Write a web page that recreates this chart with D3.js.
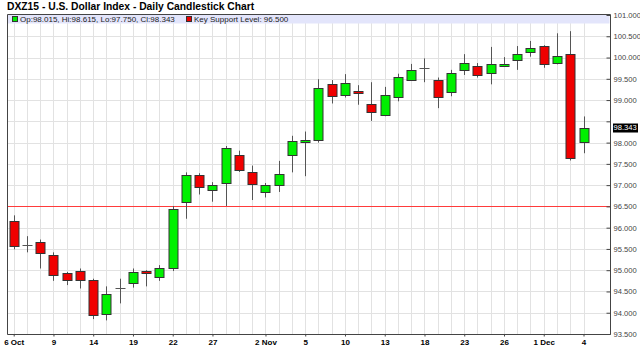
<!DOCTYPE html>
<html>
<head>
<meta charset="utf-8">
<script src="https://cdn.jsdelivr.net/npm/d3@7"></script>
<style>
  body { margin: 0; background: #fff; }
  svg { display: block; font-family: "Liberation Sans", Arial, sans-serif; }
</style>
</head>
<body>
<div id="chart"></div>
<script>
// daily sessions, 6 Oct - 4 Dec 2015
var dates = ["2015-10-06","2015-10-07","2015-10-08","2015-10-09","2015-10-12","2015-10-13","2015-10-14","2015-10-15","2015-10-16",
    "2015-10-19","2015-10-20","2015-10-21","2015-10-22","2015-10-23","2015-10-26","2015-10-27","2015-10-28","2015-10-29","2015-10-30",
    "2015-11-02","2015-11-03","2015-11-04","2015-11-05","2015-11-06","2015-11-09","2015-11-10","2015-11-11","2015-11-12","2015-11-13",
    "2015-11-16","2015-11-17","2015-11-18","2015-11-19","2015-11-20","2015-11-23","2015-11-24","2015-11-25","2015-11-26","2015-11-27",
    "2015-11-30","2015-12-01","2015-12-02","2015-12-03","2015-12-04"];
var open  = [96.16,95.59,95.67,95.35,94.93,94.97,94.78,93.98,94.58,94.71,94.98,94.85,95.04,96.60,97.24,96.88,97.05,97.71,97.30,
    96.83,97.00,97.70,98.02,98.07,99.38,99.11,99.21,98.90,98.66,99.08,99.47,99.76,99.48,99.20,99.70,99.79,99.63,99.80,99.94,
    100.13,100.27,99.88,100.09,98.015];
var high  = [96.29,95.80,95.72,95.42,94.96,95.04,94.80,94.62,94.80,95.04,95.00,95.12,96.51,97.30,97.28,97.07,97.92,97.81,97.46,
    97.05,97.57,98.16,98.26,99.49,99.47,99.61,99.35,99.42,99.31,99.62,99.85,99.98,99.53,99.71,100.08,99.87,100.25,100.01,100.27,
    100.39,100.29,100.57,100.62,98.615];
var low   = [95.49,95.42,95.04,94.75,94.65,94.57,93.85,93.82,94.22,94.59,94.62,94.75,94.98,96.21,96.78,96.61,96.51,97.31,96.65,
    96.71,96.84,97.30,97.21,98.00,98.92,99.06,98.89,98.51,98.62,98.97,99.45,99.42,98.81,99.09,99.59,99.53,99.37,99.78,99.71,
    100.02,99.76,99.84,97.58,97.750];
var close = [95.57,95.59,95.41,94.88,94.76,94.77,93.94,94.43,94.58,94.95,94.93,95.06,96.45,97.25,96.95,97.01,97.87,97.36,97.02,
    97.00,97.26,98.04,98.06,99.28,99.09,99.39,99.16,98.73,99.11,99.55,99.71,99.76,99.08,99.63,99.86,99.60,99.85,99.85,100.08,
    100.23,99.85,100.03,97.64,98.343];

var tickDates  = ["2015-10-06","2015-10-09","2015-10-14","2015-10-19","2015-10-22","2015-10-27","2015-11-02","2015-11-05",
    "2015-11-10","2015-11-13","2015-11-18","2015-11-23","2015-11-26","2015-12-01","2015-12-04"];
var tickLabels = ["6 Oct","9","14","19","22","27","2 Nov","5","10","13","18","23","26","1 Dec","4"];
var yTicks = d3.range(93.5, 101.01, 0.5);

var supportLevel = 96.5;
var lastClose = 98.343;

var width = 640, height = 363;
var pLeft = 7, pRight = 610, pTop = 14, pBottom = 334;

var svg = d3.select("#chart").append("svg")
    .attr("width", width)
    .attr("height", height);

var x = d3.scalePoint().domain(dates).range([13.7, 583.5]);
var y = d3.scaleLinear().domain([93.5, 101]).range([pBottom, 15]);

var candles = dates.map(function(d, i) {
    return { date: d, o: open[i], h: high[i], l: low[i], c: close[i] };
});

// title
svg.append("text")
    .attr("x", 7).attr("y", 10)
    .style("font-size", "10.3px").style("font-weight", "bold")
    .attr("fill", "#000")
    .text("DXZ15 - U.S. Dollar Index - Daily Candlestick Chart");

// grid
var grid = svg.append("g").attr("stroke", "#e2e2e2").attr("stroke-width", 1);
grid.selectAll(".vg").data(dates).enter().append("line")
    .attr("x1", function(d) { return Math.round(x(d)) + 0.5; })
    .attr("x2", function(d) { return Math.round(x(d)) + 0.5; })
    .attr("y1", pTop).attr("y2", pBottom);
grid.selectAll(".hg").data(yTicks).enter().append("line")
    .attr("x1", pLeft).attr("x2", pRight)
    .attr("y1", function(d) { return Math.round(y(d)) + 0.5; })
    .attr("y2", function(d) { return Math.round(y(d)) + 0.5; });

// legend band
svg.append("rect")
    .attr("x", pLeft + 0.5).attr("y", pTop + 0.5)
    .attr("width", pRight - pLeft - 1).attr("height", 9)
    .attr("fill", "#e3e5fb");

var legend = svg.append("g").style("font-size", "8px").attr("fill", "#222");
legend.append("rect").attr("x", 12.5).attr("y", 16.5).attr("width", 5).attr("height", 5)
    .attr("fill", "#00ee00").attr("stroke", "#333");
legend.append("text").attr("x", 20).attr("y", 22)
    .text("Op:" + open[43].toFixed(3) + ", Hi:" + high[43].toFixed(3) + ", Lo:" + low[43].toFixed(3) + ", Cl:" + close[43].toFixed(3));
legend.append("rect").attr("x", 186.5).attr("y", 16.5).attr("width", 5).attr("height", 5)
    .attr("fill", "#ee0000").attr("stroke", "#333");
legend.append("text").attr("x", 194).attr("y", 22)
    .text("Key Support Level: " + supportLevel.toFixed(3));

// support line
svg.append("line")
    .attr("x1", pLeft).attr("x2", pRight)
    .attr("y1", Math.round(y(supportLevel)) + 0.5).attr("y2", Math.round(y(supportLevel)) + 0.5)
    .attr("stroke", "#ff3b3b").attr("stroke-width", 1);

// candles
var cg = svg.append("g");
candles.forEach(function(d) {
    var cx = Math.round(x(d.date)) + 0.5;
    var g = cg.append("g");
    g.append("line")
        .attr("x1", cx).attr("x2", cx)
        .attr("y1", y(d.h)).attr("y2", y(d.l))
        .attr("stroke", "#555").attr("stroke-width", 1);
    if (d.o === d.c) {
        g.append("line")
            .attr("x1", cx - 5).attr("x2", cx + 5)
            .attr("y1", Math.round(y(d.o)) + 0.5).attr("y2", Math.round(y(d.o)) + 0.5)
            .attr("stroke", "#555");
    } else {
        var t = Math.round(y(Math.max(d.o, d.c))) + 0.5;
        var b = Math.round(y(Math.min(d.o, d.c))) + 0.5;
        g.append("rect")
            .attr("x", cx - 4.5).attr("y", t)
            .attr("width", 9).attr("height", Math.max(1, b - t))
            .attr("fill", d.c > d.o ? "#00f000" : "#f00000")
            .attr("stroke", "#333").attr("stroke-width", 1);
    }
});

// frame
svg.append("path")
    .attr("d", "M" + (pLeft + 0.5) + "," + (pTop + 0.5) + "H" + (pRight + 0.5) + "V" + (pBottom + 0.5) + "H" + (pLeft + 0.5) + "Z")
    .attr("fill", "none").attr("stroke", "#444");

// y axis on the right, ticks pointing inwards
var yAxis = d3.axisRight(y)
    .tickValues(yTicks)
    .tickFormat(d3.format(".3f"))
    .tickSizeInner(-4).tickSizeOuter(0).tickPadding(3);
var gY = svg.append("g")
    .attr("transform", "translate(" + (pRight + 0.5) + ",0)")
    .call(yAxis);
gY.select(".domain").remove();
gY.selectAll("line").attr("stroke", "#444");
gY.selectAll("text").attr("fill", "#444").style("font-size", "7.6px").attr("font-family", null);
// label hidden behind the last-close marker
gY.selectAll(".tick").filter(function(d) { return Math.abs(y(d) - y(lastClose)) < 9; })
    .select("text").remove();

// last close marker
var lc = svg.append("g").attr("transform", "translate(613," + y(lastClose) + ")");
lc.append("rect").attr("x", 0).attr("y", -4.5).attr("width", 25).attr("height", 9).attr("fill", "#000");
lc.append("text").attr("x", 0.5).attr("dy", "0.32em")
    .attr("fill", "#fff").style("font-size", "7.6px")
    .text(lastClose.toFixed(3));

// x axis
var xAxis = d3.axisBottom(x)
    .tickValues(tickDates)
    .tickFormat(function(d) { return tickLabels[tickDates.indexOf(d)]; })
    .tickSizeInner(2).tickSizeOuter(0).tickPadding(3);
var gX = svg.append("g")
    .attr("transform", "translate(0," + (pBottom + 0.5) + ")")
    .call(xAxis);
gX.select(".domain").remove();
gX.selectAll("line").attr("stroke", "#444");
gX.selectAll("text").attr("fill", "#000").style("font-size", "8px").style("font-weight", "bold").attr("font-family", null);
</script>
</body>
</html>
